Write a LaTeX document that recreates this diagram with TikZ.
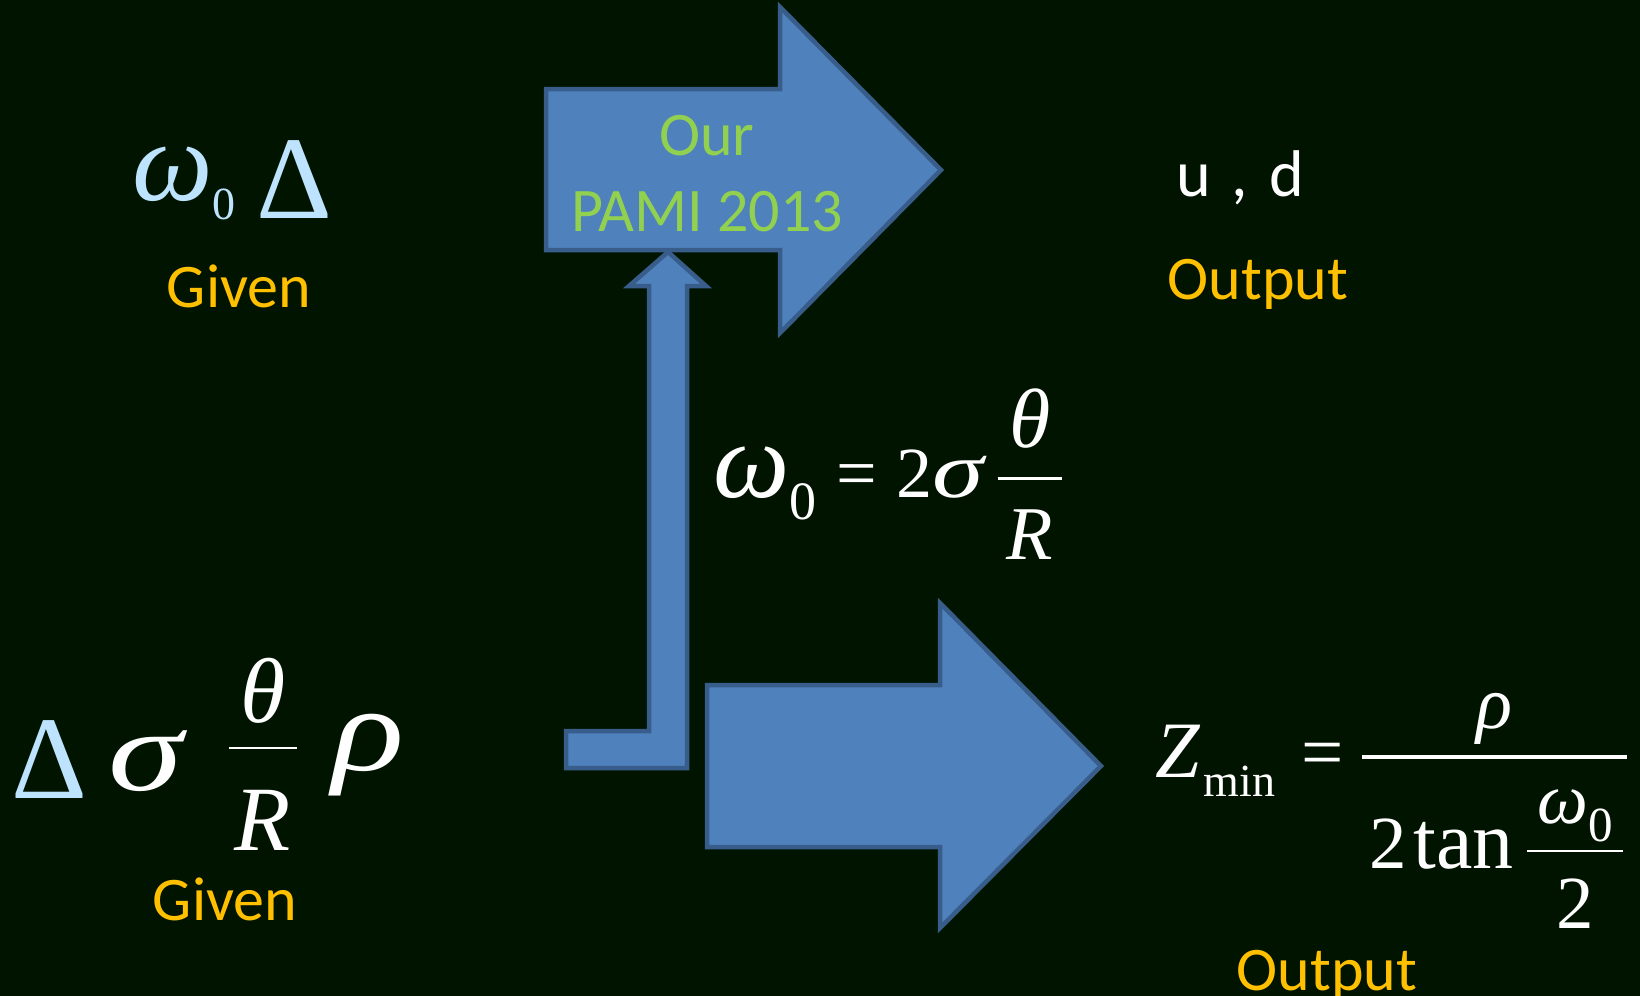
\documentclass[tikz,border=0pt]{standalone}
\usepackage{fontspec}
\setmainfont{Carlito}
\newfontfamily\tms{Liberation Serif}
\definecolor{bgdark}{HTML}{001400}
\definecolor{aface}{HTML}{4F81BD}
\definecolor{aedge}{HTML}{385D8A}
\definecolor{tgold}{HTML}{FFC000}
\definecolor{tgreen}{HTML}{92D050}
\definecolor{tsky}{HTML}{BDE3FF}
% omega with a subscript zero: omega size, zero size, drop
\newcommand{\omz}[3]{\mbox{{\fontsize{#1}{#1}\selectfont\tms\itshape ω}\raisebox{-#3}{\fontsize{#2}{#2}\selectfont\tms 0}}}
% widened italic greek letter: x-scale, size, letter
\newcommand{\wgk}[3]{\scalebox{#1}[1]{\fontsize{#2}{#2}\selectfont\tms\itshape #3}}
% fraction from boxes: num, den, gap above bar, gap below bar, bar lift, bar thickness
\newsavebox\fnum
\newsavebox\fden
\newlength\fwd
\newcommand{\bfrac}[6]{%
  \sbox\fnum{#1}\sbox\fden{#2}%
  \setlength\fwd{\wd\fnum}%
  \ifdim\wd\fden>\fwd \setlength\fwd{\wd\fden}\fi
  \raisebox{#5}{\vbox{\hbox to\fwd{\hfil\usebox\fnum\hfil}\kern#3\hrule height #6}}%
  \kern-\fwd
  \raisebox{#5}{\vtop{\kern#4\hbox to\fwd{\hfil\usebox\fden\hfil}}}}
\tikzset{
  blkarrow/.style = {fill=aface, draw=aedge, line width=2.25pt, line join=miter},
  word/.style     = {inner sep=0pt, font=\fontsize{31}{38}\selectfont},
  tag/.style      = {word, text=tgold},
  glyph/.style    = {inner sep=0pt, font=\fontsize{#1}{#1}\selectfont\tms},
}
\begin{document}
\begin{tikzpicture}[x=0.5pt,y=-0.5pt]
\useasboundingbox (0,0) rectangle (1640,996);
\fill[bgdark] (0,0) rectangle (1640,996);

% block arrows
\draw[blkarrow] (546,89) -- (780,89) -- (780,7) -- (941,170) -- (780,333)
      -- (780,250) -- (546,250) -- cycle;
\draw[blkarrow] (707,685) -- (940,685) -- (940,603) -- (1101,766) -- (940,928)
      -- (940,847) -- (707,847) -- cycle;
\draw[blkarrow] (566,731) -- (649,731) -- (649,286) -- (629,286) -- (668,252)
      -- (706,286) -- (687,286) -- (687,768) -- (566,768) -- cycle;

\node[word, text=tgreen, align=center] (pami) at (707,174) {Our\\PAMI 2013};

% given
\node[glyph=57, text=tsky, anchor=base west] (omGiven) at (132,200) {\omz{57}{23}{9.5pt}};
\node[glyph=59, text=tsky, anchor=base west] (dGiven) at (256,218) {Δ};
\node[tag, anchor=base] (givenTop) at (239,307) {Given};

\node[glyph=59, text=tsky, anchor=base west] (dLow) at (11,798) {Δ};
\node[glyph=58, text=white, anchor=base west] (sLow) at (108,790) {\wgk{1.3}{58}{σ}};
\node[glyph=46, text=white, anchor=base] (fLow) at (263,749)
     {\bfrac{\itshape θ}{\hspace{3pt}{\itshape R}\hspace{3pt}}{12pt}{20.5pt}{0pt}{1pt}};
\node[glyph=60, text=white, anchor=south west] (rLow) at (332,796) {\wgk{1.25}{60}{ρ}};
\node[tag, anchor=base] (givenLow) at (225,920) {Given};

\node[glyph=36, text=white, anchor=base west] (omEq) at (713,497)
     {\omz{54}{27}{11pt}\hspace{10pt}=\hspace{9.5pt}2\wgk{1.3}{40}{σ}\hspace{7pt}%
      \bfrac{\fontsize{42}{42}\selectfont\itshape θ}{\hspace{4.5pt}{\fontsize{38}{38}\selectfont\itshape R}\hspace{4.5pt}}%
      {14pt}{15pt}{8.75pt}{1.5pt}};

% output
\node[word, text=white, anchor=base, font=\fontsize{33}{40}\selectfont] (ud) at (1240,196) {u\hspace{3pt} , \hspace{3pt}d};
\node[tag, anchor=base] (outTop) at (1258,299) {Output};

\node[glyph=37.5, text=white, anchor=base west] (zEq) at (1155,777)
     {{\fontsize{40}{40}\selectfont\itshape Z}\hspace{2pt}\raisebox{-9.5pt}{\fontsize{23}{23}\selectfont min}\hspace{13pt}=\hspace{9pt}%
      \bfrac{\itshape ρ}{\hspace{4pt}2\hspace{3pt}{\fontsize{41}{41}\selectfont tan}\hspace{7pt}%
        \bfrac{\hspace{5pt}\omz{36}{24.5}{9pt}\hspace{5pt}}{2}{4pt}{13.5pt}{8pt}{1pt}\hspace{2pt}}%
      {5.5pt}{15.5pt}{9pt}{2pt}};
\node[tag, anchor=base] (outLow) at (1327,990) {Output};
\end{tikzpicture}
\end{document}
